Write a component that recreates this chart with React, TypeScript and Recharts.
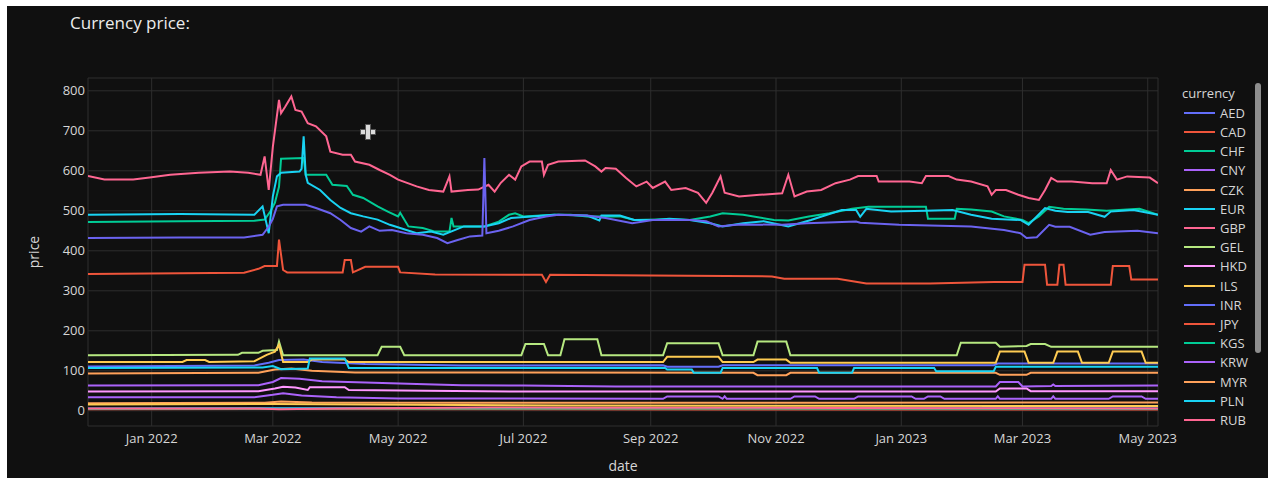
import React from "react";
import { LineChart, Line, XAxis, YAxis, CartesianGrid } from "recharts";

type Pt = [string, number];

// values (KZT per unit)
const GBP: Pt[] = [
  ["2021-12-01", 587], ["2021-12-09", 578], ["2021-12-23", 578], ["2021-12-31", 583], ["2022-01-10", 590],
  ["2022-01-24", 595], ["2022-02-08", 598], ["2022-02-17", 595], ["2022-02-23", 590], ["2022-02-25", 636],
  ["2022-02-27", 552], ["2022-03-01", 660], ["2022-03-04", 777], ["2022-03-05", 744], ["2022-03-07", 760],
  ["2022-03-10", 786], ["2022-03-12", 752], ["2022-03-15", 748], ["2022-03-18", 719], ["2022-03-22", 711],
  ["2022-03-27", 686], ["2022-03-29", 648], ["2022-04-04", 640], ["2022-04-08", 640], ["2022-04-10", 623],
  ["2022-04-17", 615], ["2022-04-22", 602], ["2022-04-27", 590], ["2022-05-01", 578], ["2022-05-10", 561],
  ["2022-05-16", 552], ["2022-05-23", 548], ["2022-05-26", 586], ["2022-05-27", 548], ["2022-06-04", 552],
  ["2022-06-09", 553], ["2022-06-14", 565], ["2022-06-17", 548], ["2022-06-20", 570], ["2022-06-24", 590],
  ["2022-06-27", 578], ["2022-06-30", 611], ["2022-07-04", 623], ["2022-07-10", 623], ["2022-07-11", 590],
  ["2022-07-13", 615], ["2022-07-18", 623], ["2022-07-31", 626], ["2022-08-05", 611], ["2022-08-08", 598],
  ["2022-08-10", 607], ["2022-08-15", 605], ["2022-08-20", 582], ["2022-08-25", 561], ["2022-08-30", 573],
  ["2022-09-02", 557], ["2022-09-08", 573], ["2022-09-11", 552], ["2022-09-18", 557], ["2022-09-24", 545],
  ["2022-09-28", 520], ["2022-10-01", 545], ["2022-10-05", 586], ["2022-10-07", 545], ["2022-10-14", 536],
  ["2022-10-24", 540], ["2022-11-04", 544], ["2022-11-07", 590], ["2022-11-10", 536], ["2022-11-16", 548],
  ["2022-11-23", 552], ["2022-11-30", 569], ["2022-12-07", 578], ["2022-12-11", 587], ["2022-12-20", 587],
  ["2022-12-21", 573], ["2023-01-05", 573], ["2023-01-11", 569], ["2023-01-13", 587], ["2023-01-24", 587],
  ["2023-01-28", 578], ["2023-02-04", 573], ["2023-02-12", 561], ["2023-02-14", 540], ["2023-02-16", 552],
  ["2023-02-21", 552], ["2023-02-27", 540], ["2023-03-04", 532], ["2023-03-09", 527], ["2023-03-12", 552],
  ["2023-03-15", 582], ["2023-03-18", 573], ["2023-03-25", 573], ["2023-04-04", 569], ["2023-04-11", 569],
  ["2023-04-13", 602], ["2023-04-16", 578], ["2023-04-21", 586], ["2023-05-02", 583], ["2023-05-06", 569],
];

const EUR: Pt[] = [
  ["2021-12-01", 490], ["2022-01-15", 492], ["2022-02-20", 490], ["2022-02-24", 511], ["2022-02-27", 444],
  ["2022-03-01", 536], ["2022-03-03", 586], ["2022-03-05", 595], ["2022-03-14", 598], ["2022-03-15", 605],
  ["2022-03-16", 686], ["2022-03-17", 590], ["2022-03-18", 570], ["2022-03-24", 552], ["2022-03-29", 527],
  ["2022-04-03", 507], ["2022-04-08", 494], ["2022-04-14", 486], ["2022-04-21", 478], ["2022-04-27", 465],
  ["2022-05-02", 457], ["2022-05-10", 444], ["2022-05-17", 448], ["2022-05-23", 440], ["2022-06-02", 461],
  ["2022-06-12", 461], ["2022-06-19", 469], ["2022-06-25", 482], ["2022-07-05", 486], ["2022-07-16", 490],
  ["2022-08-01", 488], ["2022-08-07", 476], ["2022-08-08", 488], ["2022-08-17", 488], ["2022-08-24", 477],
  ["2022-09-03", 477], ["2022-09-10", 480], ["2022-09-20", 477], ["2022-09-30", 469], ["2022-10-06", 461],
  ["2022-10-16", 469], ["2022-10-26", 474], ["2022-11-07", 461], ["2022-11-18", 477], ["2022-12-03", 502],
  ["2022-12-10", 502], ["2022-12-12", 485], ["2022-12-15", 505], ["2022-12-27", 498], ["2023-01-13", 500],
  ["2023-01-26", 502], ["2023-02-04", 490], ["2023-02-14", 480], ["2023-02-28", 477], ["2023-03-04", 465],
  ["2023-03-12", 507], ["2023-03-17", 500], ["2023-03-23", 497], ["2023-04-02", 497], ["2023-04-10", 485],
  ["2023-04-13", 498], ["2023-04-24", 502], ["2023-05-06", 490],
];

const CHF: Pt[] = [
  ["2021-12-01", 472], ["2022-01-15", 474], ["2022-02-20", 475], ["2022-02-25", 478], ["2022-02-28", 500],
  ["2022-03-02", 520], ["2022-03-04", 560], ["2022-03-05", 630], ["2022-03-16", 632], ["2022-03-17", 590],
  ["2022-03-27", 590], ["2022-03-30", 565], ["2022-04-06", 562], ["2022-04-09", 540], ["2022-04-14", 532],
  ["2022-04-21", 511], ["2022-04-26", 498], ["2022-05-01", 486], ["2022-05-02", 495], ["2022-05-06", 461],
  ["2022-05-13", 457], ["2022-05-19", 448], ["2022-05-26", 448], ["2022-05-27", 482], ["2022-05-28", 461],
  ["2022-06-12", 461], ["2022-06-19", 473], ["2022-06-24", 490], ["2022-06-27", 494], ["2022-07-01", 486],
  ["2022-07-16", 490], ["2022-07-24", 490], ["2022-08-01", 486], ["2022-08-17", 486], ["2022-08-24", 477],
  ["2022-09-10", 479], ["2022-09-20", 477], ["2022-09-30", 486], ["2022-10-06", 494], ["2022-10-16", 490],
  ["2022-10-31", 477], ["2022-11-07", 476], ["2022-11-17", 486], ["2022-11-27", 494], ["2022-12-08", 505],
  ["2022-12-16", 510], ["2023-01-13", 510], ["2023-01-14", 480], ["2023-01-27", 480], ["2023-01-28", 505],
  ["2023-02-04", 503], ["2023-02-14", 498], ["2023-02-20", 486], ["2023-03-01", 477], ["2023-03-04", 469],
  ["2023-03-09", 486], ["2023-03-14", 510], ["2023-03-21", 505], ["2023-04-01", 503], ["2023-04-11", 500],
  ["2023-04-27", 505], ["2023-05-06", 490],
];

const USD: Pt[] = [
  ["2021-12-01", 432], ["2022-01-15", 433], ["2022-02-15", 433], ["2022-02-24", 440], ["2022-02-27", 460],
  ["2022-03-01", 480], ["2022-03-03", 511], ["2022-03-06", 515], ["2022-03-17", 515], ["2022-03-22", 507],
  ["2022-03-29", 494], ["2022-04-03", 477], ["2022-04-08", 457], ["2022-04-13", 448], ["2022-04-17", 461],
  ["2022-04-22", 450], ["2022-04-28", 452], ["2022-05-05", 444], ["2022-05-13", 440], ["2022-05-20", 432],
  ["2022-05-25", 419], ["2022-05-30", 427], ["2022-06-05", 436], ["2022-06-11", 438], ["2022-06-12", 632],
  ["2022-06-13", 444], ["2022-06-19", 450], ["2022-06-26", 461], ["2022-07-04", 477], ["2022-07-12", 486],
  ["2022-07-18", 490], ["2022-08-01", 488], ["2022-08-10", 482], ["2022-08-23", 469], ["2022-09-02", 477],
  ["2022-09-21", 477], ["2022-09-28", 474], ["2022-10-04", 461], ["2022-10-14", 466], ["2022-11-04", 465],
  ["2022-11-16", 469], ["2022-12-10", 473], ["2022-12-12", 470], ["2022-12-31", 465], ["2023-02-04", 461],
  ["2023-02-20", 452], ["2023-02-28", 444], ["2023-03-03", 432], ["2023-03-08", 434], ["2023-03-14", 465],
  ["2023-03-17", 460], ["2023-03-24", 460], ["2023-04-03", 440], ["2023-04-10", 447], ["2023-04-26", 450],
  ["2023-05-06", 444],
];

const CAD: Pt[] = [
  ["2021-12-01", 342], ["2022-02-15", 345], ["2022-02-22", 355], ["2022-02-25", 362], ["2022-03-03", 362],
  ["2022-03-04", 428], ["2022-03-06", 352], ["2022-03-08", 346], ["2022-04-04", 346], ["2022-04-05", 377],
  ["2022-04-08", 377], ["2022-04-09", 346], ["2022-04-15", 360], ["2022-05-01", 360], ["2022-05-02", 346],
  ["2022-05-19", 341], ["2022-07-10", 340], ["2022-07-12", 322], ["2022-07-14", 340], ["2022-09-01", 338],
  ["2022-10-30", 336], ["2022-11-05", 330], ["2022-12-01", 330], ["2022-12-15", 318], ["2023-01-15", 318],
  ["2023-02-15", 322], ["2023-03-01", 322], ["2023-03-02", 365], ["2023-03-12", 365], ["2023-03-13", 315],
  ["2023-03-18", 315], ["2023-03-19", 365], ["2023-03-21", 365], ["2023-03-22", 315], ["2023-04-13", 315],
  ["2023-04-14", 362], ["2023-04-22", 362], ["2023-04-23", 328], ["2023-05-06", 328],
];

const GEL: Pt[] = [
  ["2021-12-01", 139], ["2022-02-12", 140], ["2022-02-14", 145], ["2022-02-22", 145], ["2022-02-24", 150],
  ["2022-03-03", 152], ["2022-03-04", 173], ["2022-03-06", 139], ["2022-04-21", 139], ["2022-04-23", 160],
  ["2022-05-02", 160], ["2022-05-04", 139], ["2022-06-30", 139], ["2022-07-02", 167], ["2022-07-11", 167],
  ["2022-07-13", 139], ["2022-07-19", 139], ["2022-07-21", 179], ["2022-08-06", 179], ["2022-08-08", 139],
  ["2022-09-07", 139], ["2022-09-09", 169], ["2022-10-04", 169], ["2022-10-06", 139], ["2022-10-21", 139],
  ["2022-10-23", 173], ["2022-11-06", 173], ["2022-11-08", 139], ["2023-01-28", 139], ["2023-01-30", 170],
  ["2023-02-16", 170], ["2023-02-18", 160], ["2023-03-03", 162], ["2023-03-05", 167], ["2023-03-12", 167],
  ["2023-03-15", 160], ["2023-05-06", 160],
];

const ILS: Pt[] = [
  ["2021-12-01", 122], ["2022-01-16", 122], ["2022-01-18", 127], ["2022-01-27", 127], ["2022-01-29", 122],
  ["2022-02-20", 124], ["2022-02-26", 140], ["2022-03-02", 148], ["2022-03-04", 165], ["2022-03-06", 122],
  ["2022-03-18", 122], ["2022-03-20", 128], ["2022-04-05", 128], ["2022-04-07", 122], ["2022-09-07", 122],
  ["2022-09-09", 135], ["2022-10-04", 135], ["2022-10-06", 122], ["2022-10-21", 122], ["2022-10-23", 128],
  ["2022-11-06", 128], ["2022-11-08", 120], ["2023-02-16", 120], ["2023-02-18", 148], ["2023-03-02", 148],
  ["2023-03-04", 120], ["2023-03-16", 120], ["2023-03-18", 148], ["2023-03-28", 148], ["2023-03-30", 120],
  ["2023-04-12", 120], ["2023-04-14", 148], ["2023-04-28", 148], ["2023-04-30", 120], ["2023-05-06", 120],
];

const AED: Pt[] = [
  ["2021-12-01", 111], ["2022-02-20", 113], ["2022-02-27", 120], ["2022-03-04", 127], ["2022-03-16", 128],
  ["2022-03-25", 122], ["2022-04-15", 117], ["2022-06-01", 113], ["2022-09-07", 114], ["2022-09-09", 110],
  ["2022-10-04", 110], ["2022-10-06", 114], ["2023-02-15", 114], ["2023-02-17", 118], ["2023-05-06", 118],
];

const PLN: Pt[] = [
  ["2021-12-01", 107], ["2022-02-24", 108], ["2022-03-01", 112], ["2022-03-05", 104], ["2022-03-18", 106],
  ["2022-03-19", 131], ["2022-04-05", 131], ["2022-04-07", 107], ["2022-09-08", 107], ["2022-09-09", 103],
  ["2022-09-21", 103], ["2022-09-22", 95], ["2022-10-05", 95], ["2022-10-06", 107], ["2022-11-21", 107],
  ["2022-11-22", 95], ["2022-12-08", 95], ["2022-12-09", 107], ["2023-01-17", 107], ["2023-01-18", 99],
  ["2023-02-15", 99], ["2023-02-16", 110], ["2023-05-06", 110],
];

const MYR: Pt[] = [
  ["2021-12-01", 93], ["2022-02-22", 95], ["2022-03-02", 103], ["2022-03-10", 106], ["2022-03-20", 100],
  ["2022-04-10", 96], ["2022-10-21", 95], ["2022-10-23", 89], ["2022-11-06", 89], ["2022-11-08", 95],
  ["2023-02-16", 95], ["2023-02-18", 90], ["2023-03-03", 90], ["2023-03-05", 95], ["2023-05-06", 95],
];

const CNY: Pt[] = [
  ["2021-12-01", 63], ["2022-02-22", 64], ["2022-03-01", 72], ["2022-03-05", 82], ["2022-03-14", 80],
  ["2022-03-25", 74], ["2022-04-15", 71], ["2022-05-10", 67], ["2022-06-01", 64], ["2022-07-01", 63],
  ["2022-08-15", 61], ["2022-12-01", 61], ["2023-02-16", 61], ["2023-02-18", 72], ["2023-02-27", 72],
  ["2023-03-01", 61], ["2023-03-15", 62], ["2023-03-16", 66], ["2023-03-17", 62], ["2023-05-06", 63],
];

const HKD: Pt[] = [
  ["2021-12-01", 48], ["2022-02-22", 49], ["2022-03-02", 56], ["2022-03-06", 60], ["2022-03-12", 58],
  ["2022-03-18", 52], ["2022-03-19", 59], ["2022-04-05", 59], ["2022-04-07", 52], ["2022-05-15", 50],
  ["2022-07-01", 48], ["2023-02-16", 48], ["2023-02-18", 56], ["2023-03-03", 56], ["2023-03-05", 49],
  ["2023-05-06", 49],
];

const KRW: Pt[] = [
  ["2021-12-01", 34], ["2022-02-20", 34], ["2022-03-01", 40], ["2022-03-06", 44], ["2022-03-15", 38],
  ["2022-04-01", 34], ["2022-05-01", 31], ["2022-09-07", 30], ["2022-09-09", 36], ["2022-10-04", 36],
  ["2022-10-06", 30], ["2022-10-07", 36], ["2022-10-08", 30], ["2022-11-08", 30], ["2022-11-10", 36],
  ["2022-11-20", 36], ["2022-11-22", 30], ["2022-12-09", 30], ["2022-12-11", 36], ["2023-01-06", 36],
  ["2023-01-08", 30], ["2023-01-12", 30], ["2023-01-14", 36], ["2023-01-20", 36], ["2023-01-22", 30],
  ["2023-02-16", 30], ["2023-02-17", 36], ["2023-02-18", 30], ["2023-03-15", 30], ["2023-03-16", 36],
  ["2023-03-17", 30], ["2023-04-12", 30], ["2023-04-14", 36], ["2023-04-28", 36], ["2023-04-30", 30],
  ["2023-05-06", 30],
];

const CZK: Pt[] = [
  ["2021-12-01", 19], ["2022-02-25", 20], ["2022-03-05", 23], ["2022-03-20", 21], ["2022-06-01", 20],
  ["2022-12-01", 20], ["2023-05-06", 21],
];
const UAH: Pt[] = [["2021-12-01", 16], ["2022-03-01", 17], ["2022-07-22", 13], ["2023-05-06", 12]];
const INR: Pt[] = [["2021-12-01", 6], ["2022-03-05", 7], ["2023-05-06", 6]];
const RUB: Pt[] = [
  ["2021-12-01", 6], ["2022-02-22", 6], ["2022-03-04", 4], ["2022-04-01", 6], ["2022-06-15", 8.5],
  ["2022-08-01", 7.8], ["2022-10-01", 7.5], ["2022-12-01", 7.3], ["2023-02-01", 6.5], ["2023-05-06", 5.8],
];
const KGS: Pt[] = [["2021-12-01", 5], ["2022-03-05", 6], ["2023-05-06", 5]];
const JPY: Pt[] = [["2021-12-01", 4], ["2022-03-05", 4.4], ["2022-10-01", 3.3], ["2023-05-06", 3.4]];

const SERIES: { name: string; color: string; pts: Pt[] }[] = [
  { name: "AED", color: "#636efa", pts: AED },
  { name: "CAD", color: "#EF553B", pts: CAD },
  { name: "CHF", color: "#00cc96", pts: CHF },
  { name: "CNY", color: "#ab63fa", pts: CNY },
  { name: "CZK", color: "#FFA15A", pts: CZK },
  { name: "EUR", color: "#19d3f3", pts: EUR },
  { name: "GBP", color: "#FF6692", pts: GBP },
  { name: "GEL", color: "#B6E880", pts: GEL },
  { name: "HKD", color: "#FF97FF", pts: HKD },
  { name: "ILS", color: "#FECB52", pts: ILS },
  { name: "INR", color: "#636efa", pts: INR },
  { name: "JPY", color: "#EF553B", pts: JPY },
  { name: "KGS", color: "#00cc96", pts: KGS },
  { name: "KRW", color: "#ab63fa", pts: KRW },
  { name: "MYR", color: "#FFA15A", pts: MYR },
  { name: "PLN", color: "#19d3f3", pts: PLN },
  { name: "RUB", color: "#FF6692", pts: RUB },
  { name: "UAH", color: "#FECB52", pts: UAH },
  { name: "USD", color: "#6b63f0", pts: USD },
];

// the reference legend is scrolled: only the first entries are visible
const LEGEND_VISIBLE = 17;

const X_TICKS = ["2022-01-01", "2022-03-01", "2022-05-01", "2022-07-01", "2022-09-01", "2022-11-01", "2023-01-01", "2023-03-01", "2023-05-01"];
const Y_TICKS = [0, 100, 200, 300, 400, 500, 600, 700, 800];
const MONTHS = ["Jan", "Feb", "Mar", "Apr", "May", "Jun", "Jul", "Aug", "Sep", "Oct", "Nov", "Dec"];

const toTime = (s: string) => {
  const [y, m, d] = s.split("-").map(Number);
  return Date.UTC(y, m - 1, d);
};
const fmtDate = (t: number) => {
  const d = new Date(t);
  return `${MONTHS[d.getUTCMonth()]} ${d.getUTCFullYear()}`;
};

const FONT = "'Open Sans', Verdana, Arial, sans-serif";
const TEXT = "#d6d6d6";

export default function App() {
  return (
    <div style={{ position: "relative", width: 1275, height: 479, background: "#fff", fontFamily: FONT, overflow: "hidden" }}>
      <style>{"body{margin:0;background:#fff}"}</style>
      <div style={{ position: "absolute", left: 7, top: 6, width: 1261, height: 472, background: "#101010" }} />

      <div style={{ position: "absolute", left: 70, top: 11, fontSize: 17, color: "#ececec" }}>Currency price:</div>

      <div style={{ position: "absolute", left: 0, top: 0 }}>
        <LineChart width={1275} height={479} margin={{ top: 78, right: 117, bottom: 23, left: 0 }}>
          <CartesianGrid stroke="#2e2e2e" strokeWidth={1} />
          <XAxis
            dataKey="t"
            type="number"
            domain={[toTime("2021-12-01"), toTime("2023-05-06")]}
            allowDataOverflow
            ticks={X_TICKS.map(toTime)}
            tickFormatter={fmtDate}
            height={30}
            tickLine={false}
            axisLine={false}
            tickSize={0}
            tickMargin={8}
            tick={{ fill: TEXT, fontSize: 13, fontFamily: FONT }}
          />
          <YAxis
            type="number"
            domain={[-38, 832]}
            allowDataOverflow
            ticks={Y_TICKS}
            width={88}
            tickLine={false}
            axisLine={false}
            tickSize={0}
            tickMargin={3}
            tick={{ fill: TEXT, fontSize: 13, fontFamily: FONT }}
          />
          {SERIES.map((s) => (
            <Line
              key={s.name}
              name={s.name}
              data={s.pts.map(([d, v]) => ({ t: toTime(d), v }))}
              dataKey="v"
              type="linear"
              stroke={s.color}
              strokeWidth={2}
              dot={false}
              activeDot={false}
              isAnimationActive={false}
            />
          ))}
        </LineChart>
      </div>

      <div style={{ position: "absolute", left: 33, top: 252, transform: "translate(-50%, -50%) rotate(-90deg)", fontSize: 14, color: TEXT }}>price</div>
      <div style={{ position: "absolute", left: 623, top: 465, transform: "translate(-50%, -50%)", fontSize: 14, color: TEXT }}>date</div>

      {/* legend */}
      <div style={{ position: "absolute", left: 1180, top: 82, width: 72, height: 350 }}>
        <div style={{ position: "absolute", left: 2, top: 11, transform: "translateY(-50%)", fontSize: 13, color: TEXT }}>currency</div>
        {SERIES.slice(0, LEGEND_VISIBLE).map((s, i) => (
          <div key={s.name} style={{ position: "absolute", left: 0, top: 30.7 + i * 19.2, transform: "translateY(-50%)", display: "flex", alignItems: "center" }}>
            <div style={{ marginLeft: 4, width: 31, height: 2, background: s.color }} />
            <span style={{ marginLeft: 5, fontSize: 13, color: TEXT }}>{s.name}</span>
          </div>
        ))}
      </div>
      <div style={{ position: "absolute", left: 1255, top: 83, width: 6, height: 270, borderRadius: 3, background: "#8e8e8e" }} />

      {/* mouse cursor visible in the screenshot */}
      <div style={{ position: "absolute", left: 360, top: 129, width: 14, height: 4, background: "#dcdcdc", border: "1px solid #555" }} />
      <div style={{ position: "absolute", left: 365, top: 124, width: 4, height: 14, background: "#dcdcdc", border: "1px solid #555" }} />
    </div>
  );
}
